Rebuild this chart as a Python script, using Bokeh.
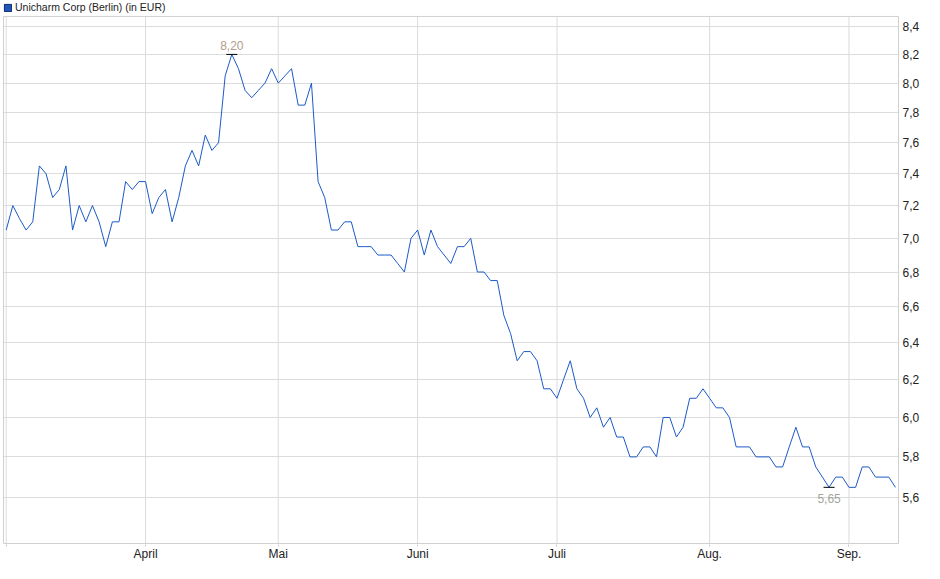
import math
from bokeh.plotting import figure
from bokeh.models import (Range1d, FixedTicker, CustomJSTickFormatter, Legend,
                          LegendItem)
from bokeh.core.properties import value
from bokeh.embed import file_html
from bokeh.resources import INLINE

series_name = "Unicharm Corp (Berlin) (in EUR)"

# daily closing prices (trading days, 3 Mar – 10 Sep)
prices = [
    7.05, 7.20, 7.12, 7.05, 7.10, 7.45, 7.40, 7.25, 7.30, 7.45,
    7.05, 7.20, 7.10, 7.20, 7.10, 6.95, 7.10, 7.10, 7.35, 7.30,
    7.35, 7.35, 7.15, 7.25, 7.30, 7.10, 7.25, 7.45, 7.55, 7.45,
    7.65, 7.55, 7.60, 8.05, 8.20, 8.10, 7.95, 7.90, 7.95, 8.00,
    8.10, 8.00, 8.05, 8.10, 7.85, 7.85, 8.00, 7.35, 7.25, 7.05,
    7.05, 7.10, 7.10, 6.95, 6.95, 6.95, 6.90, 6.90, 6.90, 6.85,
    6.80, 7.00, 7.05, 6.90, 7.05, 6.95, 6.90, 6.85, 6.95, 6.95,
    7.00, 6.80, 6.80, 6.75, 6.75, 6.55, 6.45, 6.30, 6.35, 6.35,
    6.30, 6.15, 6.15, 6.10, 6.20, 6.30, 6.15, 6.10, 6.00, 6.05,
    5.95, 6.00, 5.90, 5.90, 5.80, 5.80, 5.85, 5.85, 5.80, 6.00,
    6.00, 5.90, 5.95, 6.10, 6.10, 6.15, 6.10, 6.05, 6.05, 6.00,
    5.85, 5.85, 5.85, 5.80, 5.80, 5.80, 5.75, 5.75, 5.85, 5.95,
    5.85, 5.85, 5.75, 5.70, 5.65, 5.70, 5.70, 5.65, 5.65, 5.75,
    5.75, 5.70, 5.70, 5.70, 5.65,
]
days = list(range(len(prices)))

# first trading day of each month (index into prices) and its label
month_start_idx = [0, 21, 41, 62, 83, 106, 127]
month_labels = ["", "April", "Mai", "Juni", "Juli", "Aug.", "Sep."]

y_ticks = [5.6, 5.8, 6.0, 6.2, 6.4, 6.6, 6.8, 7.0, 7.2, 7.4, 7.6, 7.8, 8.0, 8.2, 8.4]

FONT = "Liberation Sans"
FS = "12px"
LINE_BLUE = "#1c5ac6"
GRID = "#dcdcdc"
BOX = "#d0d0d0"

# ---- layout geometry (pixels) ----
FL, FR, FB = 2, 899, 546          # frame left / right / bottom (top = 0)
BOX_L, BOX_R, BOX_T, BOX_B = 3, 898, 16, 545   # visible plot box
X0_PX, PX_PER_DAY = 5.7, 6.636     # first trading day position, spacing
Y_TOP_PX, Y_BOT_PX = 26.0, 499.0   # pixel rows of top / bottom tick
K = (Y_BOT_PX - Y_TOP_PX) / math.log(y_ticks[-1] / y_ticks[0])


def xval(px):
    return (px - X0_PX) / PX_PER_DAY


def yval(py):
    return y_ticks[-1] * math.exp((Y_TOP_PX - py) / K)


W = FR + 32
H = FB + 17

hi_idx = prices.index(max(prices))
lo_idx = prices.index(min(prices))

p = figure(width=W, height=H, output_backend="svg", toolbar_location=None,
           y_axis_type="log", y_axis_location="right",
           x_range=Range1d(xval(FL), xval(FR)), y_range=Range1d(yval(FB), yval(0)),
           min_border_left=FL, min_border_right=W - FR, min_border_top=0,
           min_border_bottom=H - FB)

p.background_fill_color = "white"
p.border_fill_color = "white"
p.outline_line_color = None

# y axis (right, log scale)
p.yaxis.ticker = FixedTicker(ticks=y_ticks)
p.yaxis.formatter = CustomJSTickFormatter(code="return tick.toFixed(1).replace('.', ',');")
p.yaxis.major_tick_out = 0
p.yaxis.major_tick_in = 0
p.yaxis.minor_tick_out = 0
p.yaxis.minor_tick_in = 0
p.yaxis.axis_line_color = None
p.yaxis.major_label_standoff = 3
p.yaxis.major_label_text_font = FONT
p.yaxis.major_label_text_font_size = FS
p.yaxis.major_label_text_color = "#222222"

# x axis (months)
p.xaxis.ticker = FixedTicker(ticks=month_start_idx)
p.xaxis.major_label_overrides = dict(zip(month_start_idx, month_labels))
p.xaxis.axis_line_color = None
p.xaxis.major_tick_out = 2
p.xaxis.major_tick_in = 0
p.xaxis.major_tick_line_color = "#c8c8c8"
p.xaxis.minor_tick_out = 0
p.xaxis.major_label_standoff = 0
p.xaxis.major_label_text_font = FONT
p.xaxis.major_label_text_font_size = FS
p.xaxis.major_label_text_color = "#222222"

p.xgrid.grid_line_color = None
p.ygrid.grid_line_color = GRID

# vertical month grid lines, limited to the plot box
p.segment(x0=month_start_idx, x1=month_start_idx,
          y0=[yval(BOX_B)] * len(month_start_idx),
          y1=[yval(BOX_T)] * len(month_start_idx),
          line_color=GRID, line_width=1)

# plot box outline
p.quad(left=[xval(BOX_L)], right=[xval(BOX_R)], top=[yval(BOX_T)],
       bottom=[yval(BOX_B)], fill_alpha=0, line_color=BOX, line_width=1)

# price line
p.line(days, prices, line_color=LINE_BLUE, line_width=1)

# high / low markers
p.scatter(x=[hi_idx, lo_idx], y=[prices[hi_idx], prices[lo_idx]], marker="dash",
          size=11, line_color="black", line_width=1)
p.text(x=[hi_idx], y=[prices[hi_idx]],
       text=[f"{prices[hi_idx]:.2f}".replace(".", ",")],
       text_align="center", text_baseline="bottom", y_offset=-4,
       text_font=value(FONT), text_font_size=FS, text_color="#b09c8c")
p.text(x=[lo_idx], y=[prices[lo_idx]],
       text=[f"{prices[lo_idx]:.2f}".replace(".", ",")],
       text_align="center", text_baseline="top", y_offset=7,
       text_font=value(FONT), text_font_size=FS, text_color="#a0a49a")

# legend (series name) in the strip above the plot box;
# the legend swatch comes from a glyph with no drawable (NaN) geometry
nan = float("nan")
r_leg = p.quad(left=[nan], right=[nan], top=[nan], bottom=[nan],
               fill_color="#1f56b8", line_color="#0e2a6a")
legend = Legend(items=[LegendItem(label=series_name, renderers=[r_leg])],
                location="top_left", orientation="horizontal",
                border_line_color=None, background_fill_alpha=0,
                padding=0, margin=1, spacing=0,
                glyph_width=9, glyph_height=9, label_standoff=3,
                label_height=12, label_text_font=FONT,
                label_text_font_size="10.5px", label_text_color="#222222")
p.add_layout(legend, "center")

open("out.html", "w").write(file_html(p, INLINE))
